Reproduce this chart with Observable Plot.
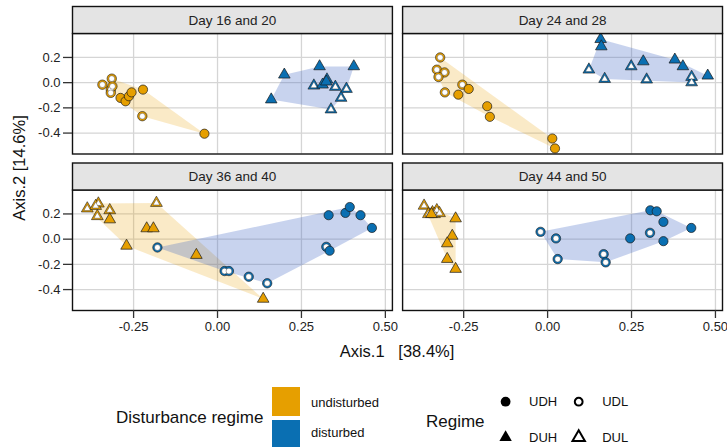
<!DOCTYPE html>
<html><head><meta charset="utf-8">
<script src="https://cdn.jsdelivr.net/npm/d3@7"></script>
<script src="https://cdn.jsdelivr.net/npm/@observablehq/plot@0.6"></script>
<style>body{margin:0;background:#fff;font-family:"Liberation Sans",Arial,sans-serif}</style>
</head><body><div id="chart"></div>
<script>
// ---- data ----
const panels = ["Day 16 and 20", "Day 24 and 28", "Day 36 and 40", "Day 44 and 50"];
const regimes = ["UDH", "UDL", "DUH", "DUL"];
const disturbanceLevels = ["undisturbed", "disturbed"];
// disturbance state of the UD* and DU* regimes in each panel
const udDisturbance = ["undisturbed", "undisturbed", "disturbed", "disturbed"];
const duDisturbance = ["disturbed", "disturbed", "undisturbed", "undisturbed"];
const xTicks = [-0.25, 0, 0.25, 0.5];
const yTicks = [0.2, 0, -0.2, -0.4];
const xLabel = "Axis.1   [38.4%]";
const yLabel = "Axis.2 [14.6%]";

// [Axis.1, Axis.2] per panel and regime
const d16_UDH = [[-0.289,-0.121],[-0.274,-0.148],[-0.264,-0.108],[-0.256,-0.077],[-0.222,-0.055],[-0.039,-0.405]];
const d16_UDL = [[-0.343,-0.016],[-0.315,0.032],[-0.318,-0.055],[-0.318,-0.081],[-0.313,-0.029],[-0.224,-0.266]];
const d16_DUH = [[0.199,0.063],[0.304,0.129],[0.406,0.129],[0.160,-0.134],[0.313,-0.016],[0.324,0.008]];
const d16_DUL = [[0.287,-0.024],[0.326,0.024],[0.351,-0.034],[0.384,-0.050],[0.368,-0.121],[0.338,-0.213]];

const d24_UDH = [[-0.266,-0.095],[-0.235,-0.050],[-0.180,-0.187],[-0.172,-0.271],[0.014,-0.443],[0.022,-0.522]];
const d24_UDL = [[-0.320,0.200],[-0.330,0.103],[-0.307,0.081],[-0.325,0.045],[-0.306,-0.077],[-0.254,-0.016]];
const d24_DUH = [[0.158,0.345],[0.160,0.287],[0.285,0.168],[0.379,0.182],[0.403,0.129],[0.477,0.055]];
const d24_DUL = [[0.123,0.103],[0.170,0.029],[0.249,0.129],[0.295,0.024],[0.429,0.045],[0.429,0.002]];

const d36_UDH = [[0.331,0.190],[0.381,0.208],[0.394,0.255],[0.426,0.190],[0.460,0.089],[0.334,-0.092]];
const d36_UDL = [[-0.179,-0.066],[0.021,-0.253],[0.034,-0.253],[0.093,-0.298],[0.148,-0.350],[0.324,-0.061]];
const d36_DUH = [[-0.321,0.156],[-0.211,0.085],[-0.191,0.085],[-0.271,-0.053],[-0.063,-0.126],[0.136,-0.474]];
const d36_DUL = [[-0.388,0.243],[-0.355,0.282],[-0.363,0.263],[-0.321,0.229],[-0.358,0.182],[-0.182,0.287]];

const d44_UDH = [[0.306,0.229],[0.325,0.221],[0.345,0.137],[0.428,0.089],[0.246,0.006],[0.345,-0.016]];
const d44_UDL = [[-0.021,0.058],[0.025,0.006],[0.030,-0.158],[0.167,-0.119],[0.173,-0.184],[0.305,0.050]];
const d44_DUH = [[-0.346,0.198],[-0.274,0.164],[-0.284,0.026],[-0.299,-0.034],[-0.299,-0.158],[-0.274,-0.237]];
const d44_DUL = [[-0.368,0.265],[-0.330,0.229],[-0.343,0.213],[-0.355,0.198],[-0.337,0.198],[-0.322,0.206]];

const panelPoints = [
  {UDH: d16_UDH, UDL: d16_UDL, DUH: d16_DUH, DUL: d16_DUL},
  {UDH: d24_UDH, UDL: d24_UDL, DUH: d24_DUH, DUL: d24_DUL},
  {UDH: d36_UDH, UDL: d36_UDL, DUH: d36_DUH, DUL: d36_DUL},
  {UDH: d44_UDH, UDL: d44_UDL, DUH: d44_DUH, DUL: d44_DUL}
];

// ---- build table ----
const rows = [];
panels.forEach((name, i) => {
  regimes.forEach(r => {
    const dist = r.startsWith("UD") ? udDisturbance[i] : duDisturbance[i];
    panelPoints[i][r].forEach(([x, y]) => rows.push({panel: name, col: i % 2, row: Math.floor(i / 2), regime: r, dist, x, y}));
  });
});

const pointColors = ["#E69F00", "#0A6FB2"];
const base = {x: "x", y: "y", fx: "col", fy: "row"};
const only = r => rows.filter(d => d.regime === r);
const ink = "#1a1a1a";

const chart = Plot.plot({
  width: 727, height: 447,
  marginLeft: 72, marginRight: 5, marginTop: 33, marginBottom: 137,
  style: {fontFamily: "Liberation Sans, Arial, sans-serif", color: "#222", background: "white"},
  x: {domain: [-0.432, 0.521]},
  y: {domain: [-0.566, 0.39]},
  fx: {domain: [0, 1], axis: null, paddingInner: 0.0308, paddingOuter: 0, round: false},
  fy: {domain: [0, 1], axis: null, paddingInner: 0.23, paddingOuter: 0, round: false},
  color: {domain: disturbanceLevels, range: pointColors},
  marks: [
    Plot.gridX({ticks: xTicks, stroke: "#d5d5d5", strokeOpacity: 1, strokeWidth: 1.3}),
    Plot.gridY({ticks: yTicks, stroke: "#d5d5d5", strokeOpacity: 1, strokeWidth: 1.3}),
    Plot.hull(rows.filter(d => d.dist === "undisturbed"), {...base, fill: "#E69F00", fillOpacity: 0.22, stroke: "none"}),
    Plot.hull(rows.filter(d => d.dist === "disturbed"), {...base, fill: "#4068c4", fillOpacity: 0.29, stroke: "none"}),
    // open circles (UDL)
    Plot.dot(only("UDL"), {...base, symbol: "circle", r: 4.7, fill: "dist", stroke: ink, strokeWidth: 0.6}),
    Plot.dot(only("UDL"), {...base, symbol: "circle", r: 2.9, fill: "white", stroke: ink, strokeWidth: 0.35}),
    // filled circles (UDH)
    Plot.dot(only("UDH"), {...base, symbol: "circle", r: 4.6, fill: "dist", stroke: ink, strokeWidth: 0.7}),
    // open triangles (DUL)
    Plot.dot(only("DUL"), {...base, symbol: "triangle", r: 4.4, fill: "dist", stroke: ink, strokeWidth: 0.6}),
    Plot.dot(only("DUL"), {...base, symbol: "triangle", r: 2.5, fill: "white", stroke: ink, strokeWidth: 0.35}),
    // filled triangles (DUH)
    Plot.dot(only("DUH"), {...base, symbol: "triangle", r: 4.3, fill: "dist", stroke: ink, strokeWidth: 0.7}),
    Plot.frame({stroke: "#111", strokeWidth: 1.4}),
    Plot.axisX({ticks: xTicks, tickFormat: d => d.toFixed(2), tickSize: 8, tickPadding: 3, fontSize: 13, label: null, stroke: "#333", strokeWidth: 1.3}),
    Plot.axisY({ticks: yTicks, tickFormat: d => d.toFixed(1), tickSize: 9, tickPadding: 3, fontSize: 13, label: null, stroke: "#333", strokeWidth: 1.3})
  ]
});

document.getElementById("chart").appendChild(chart);

// ---- strips (facet titles) ----
const svg = d3.select(chart);
const svgBox = chart.getBoundingClientRect();
const frames = Array.from(chart.querySelectorAll('g[aria-label="frame"] rect'));
const stripH = 27;
const stripG = svg.append("g").attr("aria-label", "strips");
frames.forEach(f => {
  const b = f.getBoundingClientRect();
  const fx0 = b.left - svgBox.left, fy0 = b.top - svgBox.top;
  const col = fx0 < 300 ? 0 : 1;
  const row = fy0 < 100 ? 0 : 1;
  const name = panels[row * 2 + col];
  stripG.append("rect").attr("x", fx0).attr("y", fy0 - stripH).attr("width", b.width).attr("height", stripH)
    .attr("fill", "#e4e4e4").attr("stroke", "#111").attr("stroke-width", 1.4);
  stripG.append("text").attr("x", fx0 + b.width / 2).attr("y", fy0 - stripH / 2 + 0.5)
    .attr("text-anchor", "middle").attr("dominant-baseline", "central")
    .attr("font-size", 13.5).attr("fill", "#222").text(name);
});

// ---- axis titles ----
svg.append("text").attr("x", 397).attr("y", 351).attr("text-anchor", "middle").attr("dominant-baseline", "central")
  .attr("font-size", 16.5).attr("fill", "#111").style("white-space", "pre").text(xLabel);
svg.append("text").attr("transform", "translate(19,168) rotate(-90)").attr("text-anchor", "middle").attr("dominant-baseline", "central")
  .attr("font-size", 16.5).attr("fill", "#111").text(yLabel);

// ---- legends ----
const lg = svg.append("g").attr("aria-label", "legend").attr("fill", "#111").attr("text-anchor", "start");
lg.append("text").attr("x", 116).attr("y", 417).attr("text-anchor", "start").attr("dominant-baseline", "central").attr("font-size", 17).text("Disturbance regime");
disturbanceLevels.forEach((lev, i) => {
  lg.append("rect").attr("x", 272).attr("y", 387 + i * 33).attr("width", 28).attr("height", 29).attr("fill", pointColors[i]);
  lg.append("text").attr("x", 311).attr("y", 402 + i * 30.5).attr("text-anchor", "start").attr("dominant-baseline", "central").attr("font-size", 13).text(lev);
});
lg.append("text").attr("x", 426).attr("y", 421).attr("text-anchor", "start").attr("dominant-baseline", "central").attr("font-size", 17).text("Regime");
const symPos = {UDH: [505.6, 401.7], UDL: [578.7, 401.7], DUH: [505.6, 437.3], DUL: [578.7, 437.3]};
regimes.forEach(r => {
  const [sx, sy] = symPos[r];
  const tri = r.startsWith("DU");
  const open = r.endsWith("L");
  const path = tri ? d3.symbol(d3.symbolTriangle, Math.PI * 4.6 * 4.6)() : d3.symbol(d3.symbolCircle, Math.PI * (open ? 3.9 : 4.9) ** 2)();
  lg.append("path").attr("d", path).attr("transform", `translate(${sx},${sy})`)
    .attr("fill", open ? "none" : "#000").attr("stroke", open ? "#000" : "none").attr("stroke-width", open ? 2 : 0);
  lg.append("text").attr("x", sx + 23.5).attr("y", sy).attr("text-anchor", "start").attr("dominant-baseline", "central").attr("font-size", 13).text(r);
});
</script>
</body></html>
